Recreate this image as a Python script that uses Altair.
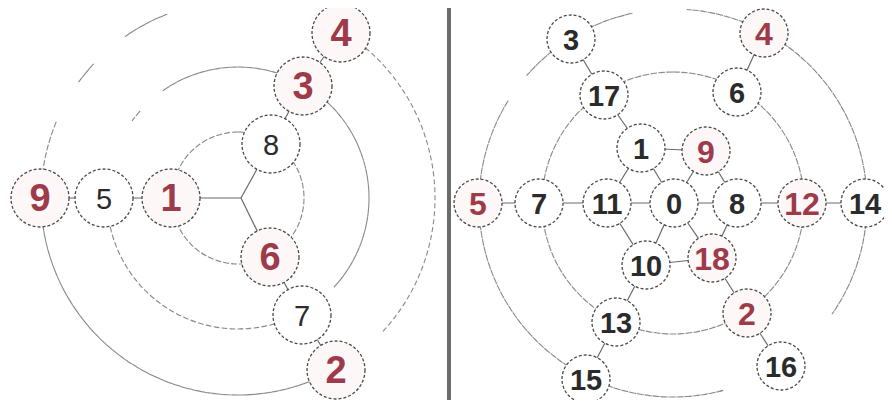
import altair as alt
import pandas as pd

# ---- node data (picture coordinates, y downward) ----
left_labels = ["9", "5", "1", "8", "6", "3", "7", "4", "2"]
left_x = [40, 104, 171, 271, 270, 303, 302, 341, 336]
left_y = [198, 198, 198, 144, 257, 86, 315, 33, 370]
left_red = [1, 0, 1, 0, 1, 1, 0, 1, 1]

right_labels = ["3", "4", "17", "6", "1", "9", "5", "7", "11", "0",
                "8", "12", "14", "10", "18", "2", "13", "16", "15"]
right_x = [571, 764, 604, 737, 641, 706, 478, 539, 607, 674,
           737, 802, 865, 646, 712, 747, 616, 781, 586]
right_y = [39, 33, 95, 92, 148, 151, 203, 203, 203, 203,
           203, 203, 203, 265, 258, 313, 322, 366, 379]
right_red = [0, 1, 0, 0, 0, 1, 1, 0, 0, 0, 0, 1, 0, 0, 1, 1, 0, 0, 0]

# junction point of the left wheel
left_junction = [241, 198]

# ---- connections ----
left_edges = [("1", "J"), ("J", "8"), ("J", "6"), ("3", "8"), ("5", "1"),
              ("9", "5"), ("4", "3"), ("7", "6"), ("2", "7")]
right_edges = [("0", "1"), ("0", "9"), ("0", "8"), ("0", "18"), ("0", "10"),
               ("0", "11"), ("1", "9"), ("9", "8"), ("8", "18"), ("18", "10"),
               ("10", "11"), ("11", "1"), ("11", "7"), ("8", "12"), ("1", "17"),
               ("18", "2"), ("10", "13"), ("7", "5"), ("12", "14"), ("17", "3"),
               ("6", "4"), ("2", "16"), ("13", "15")]

# ---- ring arcs (degrees, 0 = up, clockwise) ----
ring_center = {"left": (238, 198), "right": (673, 203)}
arc_panel = ["left", "left", "left", "left", "left",
             "left", "left", "left", "left",
             "left",
             "right", "right", "right",
             "right"]
arc_radius = [197, 197, 197, 197, 197,
              131, 131, 131, 131,
              66,
              194, 194, 194,
              131]
arc_start = [270, 306, 325, 31, 150,
             306, 325, 28, 150,
             0,
             311, 4, 165,
             0]
arc_end = [293, 313, 339, 133, 270,
           312, 388, 133, 270,
           360,
           348, 125, 302,
           360]

divider_x = [449]

# ---- build tables ----
nodes = pd.concat([
    pd.DataFrame({"panel": "left", "label": left_labels, "x": left_x,
                  "y": left_y, "red": left_red}),
    pd.DataFrame({"panel": "right", "label": right_labels, "x": right_x,
                  "y": right_y, "red": right_red}),
], ignore_index=True)
nodes["tone"] = nodes["red"].map({1: "red", 0: "black"})

lpos = {l: (x, y) for l, x, y in zip(left_labels, left_x, left_y)}
lpos["J"] = tuple(left_junction)
rpos = {l: (x, y) for l, x, y in zip(right_labels, right_x, right_y)}
rows = []
for a, b in left_edges:
    rows.append({"x": lpos[a][0], "y": lpos[a][1], "x2": lpos[b][0], "y2": lpos[b][1]})
for a, b in right_edges:
    rows.append({"x": rpos[a][0], "y": rpos[a][1], "x2": rpos[b][0], "y2": rpos[b][1]})
edges = pd.DataFrame(rows)

arcs = pd.DataFrame({"panel": arc_panel, "r": arc_radius,
                     "a0": arc_start, "a1": arc_end})
arcs["cx"] = arcs["panel"].map(lambda p: ring_center[p][0])
arcs["cy"] = arcs["panel"].map(lambda p: ring_center[p][1])

W, H = 876, 392
xs = alt.Scale(domain=[8, 8 + W])
ys = alt.Scale(domain=[8, 8 + H], reverse=True)
rs = alt.Scale(type="linear", domain=[0, W], range=[0, W])
ts = alt.Scale(type="linear", domain=[0, 360], range=[0, 6.283185307179586])

LINE = "#8a8a8a"
RED = "#9e3b4a"
INK = "#2b2b2b"

ring_layer = alt.Chart(arcs).mark_arc(
    filled=False, stroke=LINE, strokeWidth=1.1, strokeDash=[5, 3]
).encode(
    x=alt.X("cx:Q", scale=xs, axis=None),
    y=alt.Y("cy:Q", scale=ys, axis=None),
    radius=alt.Radius("r:Q", scale=rs),
    radius2=alt.Radius2("r:Q"),
    theta=alt.Theta("a0:Q", scale=ts, stack=None),
    theta2=alt.Theta2("a1:Q"),
)

edge_layer = alt.Chart(edges).mark_rule(
    color="#6a6a6a", strokeWidth=1.2
).encode(
    x=alt.X("x:Q", scale=xs, axis=None),
    y=alt.Y("y:Q", scale=ys, axis=None),
    x2="x2:Q",
    y2="y2:Q",
)

divider_layer = alt.Chart(pd.DataFrame({"x": divider_x})).mark_rule(
    color="#6b6b6b", strokeWidth=4
).encode(x=alt.X("x:Q", scale=xs, axis=None))

fill_scale = alt.Scale(domain=["red", "black"], range=["#fdf7f7", "#ffffff"])


def circles(panel, size):
    return alt.Chart(nodes).transform_filter(
        alt.datum.panel == panel
    ).mark_point(
        shape="circle", filled=True, size=size, stroke="#4a4a4a",
        strokeWidth=1.3, strokeDash=[3, 2], opacity=1
    ).encode(
        x=alt.X("x:Q", scale=xs, axis=None),
        y=alt.Y("y:Q", scale=ys, axis=None),
        fill=alt.Fill("tone:N", scale=fill_scale, legend=None),
    )


def labels(panel, tone, size, weight, color):
    return alt.Chart(nodes).transform_filter(
        (alt.datum.panel == panel) & (alt.datum.tone == tone)
    ).mark_text(
        font="Liberation Sans", fontSize=size, fontWeight=weight,
        color=color, baseline="middle", align="center", dy=2
    ).encode(
        x=alt.X("x:Q", scale=xs, axis=None),
        y=alt.Y("y:Q", scale=ys, axis=None),
        text="label:N",
    )


chart = alt.layer(
    ring_layer,
    edge_layer,
    divider_layer,
    circles("left", 3364),
    circles("right", 2304),
    labels("left", "black", 29, "normal", INK),
    labels("left", "red", 38, "bold", RED),
    labels("right", "black", 29, "bold", INK),
    labels("right", "red", 32, "bold", RED),
).properties(
    width=W, height=H, padding=0,
    autosize=alt.AutoSizeParams(type="none"),
    background="white",
).configure_view(strokeWidth=0)

chart.save("out.html", embed_options={"renderer": "svg", "actions": False})
